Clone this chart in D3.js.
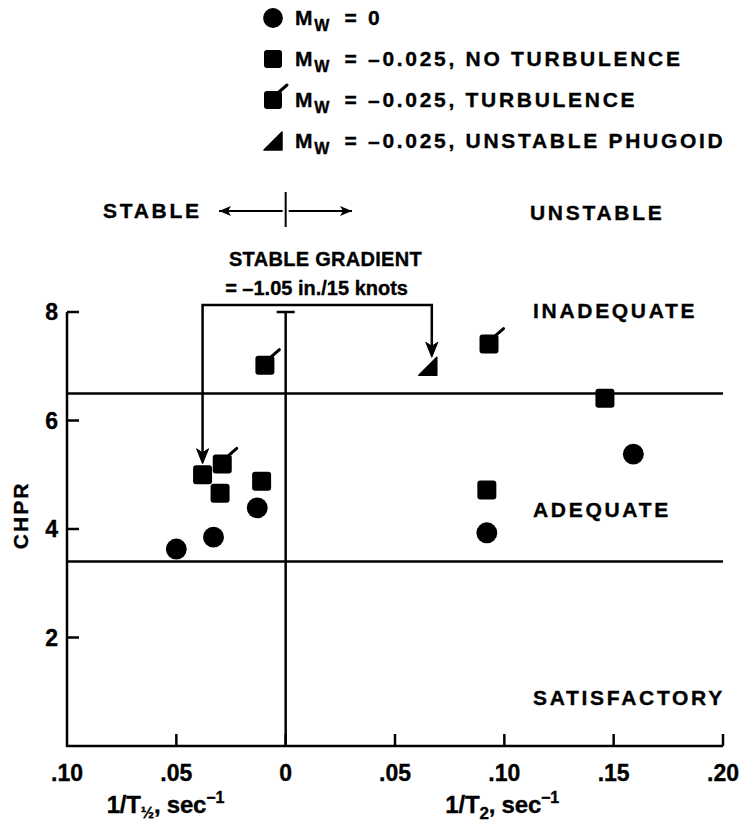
<!DOCTYPE html>
<html>
<head>
<meta charset="utf-8">
<script src="https://cdn.jsdelivr.net/npm/d3@7"></script>
<style>
  body { margin: 0; background: #fff; }
  svg text { font-family: "Liberation Sans", Arial, sans-serif; font-weight: bold; fill: #000; stroke: #000; stroke-width: 0.35px; }
  .wide { letter-spacing: 2.7px; }
</style>
</head>
<body>
<svg id="chart" width="741" height="824"></svg>
<script>
// ---- data ----
const xTickValues = [-0.10, -0.05, 0, 0.05, 0.10, 0.15, 0.20];
const xTickLabels = [".10", ".05", "0", ".05", ".10", ".15", ".20"];
const yTickValues = [2, 4, 6, 8];

// M_w = 0
const mw0X = [-0.050, -0.033, -0.013, 0.092, 0.159];
const mw0Y = [3.63, 3.85, 4.39, 3.93, 5.38];
// M_w = -0.025, no turbulence
const calmX = [-0.038, -0.030, -0.011, 0.092, 0.146];
const calmY = [5.00, 4.66, 4.88, 4.72, 6.41];
// M_w = -0.025, turbulence
const turbX = [-0.0095, -0.029, 0.093];
const turbY = [7.02, 5.20, 7.41];
// M_w = -0.025, unstable phugoid
const phugX = [0.065];
const phugY = [7.00];

// rating boundaries (CHPR)
const boundaries = [6.5, 3.4];
const regionNames = ["INADEQUATE", "ADEQUATE", "SATISFACTORY"];
const regionLabelY = [8.02, 4.35, 0.88];

const legendLabels = ["= 0", "= \u20130.025, NO TURBULENCE", "= \u20130.025, TURBULENCE", "= \u20130.025, UNSTABLE PHUGOID"];
const legendKinds = ["circle", "square", "flag", "triangle"];

// ---- drawing ----
const svg = d3.select("#chart");
const x = d3.scaleLinear().domain([-0.10, 0.20]).range([67, 723]);
const y = d3.scaleLinear().domain([0, 8]).range([746, 312]);

svg.append("defs").append("marker")
  .attr("id", "head").attr("viewBox", "0 0 12 10")
  .attr("refX", 12).attr("refY", 5)
  .attr("markerWidth", 12).attr("markerHeight", 10)
  .attr("markerUnits", "userSpaceOnUse")
  .attr("orient", "auto")
  .append("path").attr("d", "M0,0 L12,5 L0,10 L3,5 Z").attr("fill", "#000");

// plot symbols
function drawSymbol(g, kind, cx, cy, s) {
  if (kind === "circle") {
    g.append("circle").attr("cx", cx).attr("cy", cy).attr("r", s * 0.55).attr("fill", "#000");
  } else if (kind === "square" || kind === "flag") {
    g.append("rect").attr("x", cx - s / 2).attr("y", cy - s / 2)
      .attr("width", s).attr("height", s).attr("rx", 3).attr("fill", "#000");
    if (kind === "flag") {
      g.append("line").attr("x1", cx + s / 2 - 3).attr("y1", cy - s / 2 + 1)
        .attr("x2", cx + s / 2 + 5).attr("y2", cy - s / 2 - 6)
        .attr("stroke", "#000").attr("stroke-width", 3).attr("stroke-linecap", "round");
    }
  } else if (kind === "triangle") {
    const h = s / 2;
    g.append("path")
      .attr("d", `M${cx - h},${cy + h} L${cx + h},${cy + h} L${cx + h},${cy - h} Z`)
      .attr("fill", "#000").attr("stroke", "#000").attr("stroke-width", 1.5)
      .attr("stroke-linejoin", "round");
  }
}

// legend
const legend = svg.append("g");
legendKinds.forEach((k, i) => {
  const cy = 18 + i * 41;
  drawSymbol(legend, k, 273, cy, 18);
  const t = legend.append("text").attr("class", "wide").attr("x", 295).attr("y", cy + 7)
    .style("font-size", "21px");
  t.append("tspan").text("M");
  t.append("tspan").attr("dy", 6).attr("dx", -1).style("font-size", "16px").text("W");
  t.append("tspan").attr("dy", -6).attr("dx", 4).text(" " + legendLabels[i]);
});

// stable / unstable header
svg.append("text").attr("class", "wide").attr("x", 103).attr("y", 218).style("font-size", "21px").text("STABLE");
svg.append("text").attr("class", "wide").attr("x", 530).attr("y", 220).style("font-size", "21px").text("UNSTABLE");
svg.append("line").attr("x1", x(0)).attr("x2", x(0)).attr("y1", 192).attr("y2", 227)
  .attr("stroke", "#000").attr("stroke-width", 2);
svg.append("line").attr("x1", x(0) - 3).attr("x2", 219).attr("y1", 211).attr("y2", 211)
  .attr("stroke", "#000").attr("stroke-width", 2).attr("marker-end", "url(#head)");
svg.append("line").attr("x1", x(0) + 3).attr("x2", 352).attr("y1", 211).attr("y2", 211)
  .attr("stroke", "#000").attr("stroke-width", 2).attr("marker-end", "url(#head)");

// gradient note
svg.append("text").attr("x", 422).attr("y", 266).attr("text-anchor", "end")
  .style("font-size", "20px").style("letter-spacing", "0.3px").text("STABLE GRADIENT");
svg.append("text").attr("x", 408).attr("y", 295).attr("text-anchor", "end")
  .style("font-size", "20px").text("= \u20131.05 in./15 knots");

// axes
const axes = svg.append("g").attr("stroke", "#000").attr("fill", "none");
axes.append("line").attr("x1", x(-0.10)).attr("x2", x(-0.10)).attr("y1", y(8)).attr("y2", y(0) + 1).attr("stroke-width", 2.5);
axes.append("line").attr("x1", x(-0.10) - 1).attr("x2", x(0.20)).attr("y1", y(0)).attr("y2", y(0)).attr("stroke-width", 2.5);
yTickValues.forEach(v => {
  axes.append("line").attr("x1", x(-0.10)).attr("x2", x(-0.10) + 12).attr("y1", y(v)).attr("y2", y(v)).attr("stroke-width", 2.5);
});
xTickValues.forEach(v => {
  if (v === -0.10) return;
  axes.append("line").attr("x1", x(v)).attr("x2", x(v)).attr("y1", y(0)).attr("y2", y(0) - 12).attr("stroke-width", 2.5);
});

svg.selectAll(".ytl").data(yTickValues).join("text")
  .attr("x", 58).attr("y", d => y(d) + 8).attr("text-anchor", "end").style("font-size", "23px")
  .text(d => d);
svg.selectAll(".xtl").data(xTickValues).join("text")
  .attr("x", d => x(d)).attr("y", y(0) + 35).attr("text-anchor", "middle").style("font-size", "23px")
  .text((d, i) => xTickLabels[i]);

// axis titles
const t1 = svg.append("text").attr("x", x(-0.055)).attr("y", 813)
  .attr("text-anchor", "middle").style("font-size", "24px").style("letter-spacing", "-0.2px");
t1.append("tspan").text("1/T");
t1.append("tspan").attr("dy", 5).style("font-size", "16px").text("\u00BD");
t1.append("tspan").attr("dy", -5).text(", sec");
t1.append("tspan").attr("dy", -10).style("font-size", "16px").text("\u22121");
const t2 = svg.append("text").attr("x", x(0.099)).attr("y", 813)
  .attr("text-anchor", "middle").style("font-size", "24px").style("letter-spacing", "-0.2px");
t2.append("tspan").text("1/T");
t2.append("tspan").attr("dy", 6).style("font-size", "17px").text("2");
t2.append("tspan").attr("dy", -6).text(", sec");
t2.append("tspan").attr("dy", -10).style("font-size", "16px").text("\u22121");

svg.append("text").attr("transform", `translate(28,${y(4.25)}) rotate(-90)`)
  .attr("text-anchor", "middle").style("font-size", "21px").style("letter-spacing", "2px").text("CHPR");

// rating boundaries
boundaries.forEach(b => {
  axes.append("line").attr("x1", x(-0.10)).attr("x2", x(0.20)).attr("y1", y(b)).attr("y2", y(b)).attr("stroke-width", 2.5);
});
// zero line with cap
axes.append("line").attr("x1", x(0)).attr("x2", x(0)).attr("y1", y(8)).attr("y2", y(0)).attr("stroke-width", 2.5);
axes.append("line").attr("x1", x(0) - 9).attr("x2", x(0) + 9).attr("y1", y(8)).attr("y2", y(8)).attr("stroke-width", 2.5);

// region labels
regionNames.forEach((n, i) => {
  svg.append("text").attr("class", "wide").attr("x", 533).attr("y", y(regionLabelY[i]) + 7)
    .style("font-size", "21px").text(n);
});

// bracket connecting the stable gradient cases
const bracketTop = y(8) - 7;
const leftTip = [x(calmX[0]), y(calmY[0]) - 11];
const rightTip = [x(phugX[0]) + 4, y(phugY[0]) - 9];
svg.append("path")
  .attr("d", `M${leftTip[0]},${leftTip[1] - 8} V${bracketTop} H${rightTip[0]} V${rightTip[1] - 8}`)
  .attr("fill", "none").attr("stroke", "#000").attr("stroke-width", 2.5);
[leftTip, rightTip].forEach(([px, py]) => {
  svg.append("path").attr("d", `M${px},${py} L${px - 6},${py - 15} L${px},${py - 11} L${px + 6},${py - 15} Z`)
    .attr("fill", "#000").attr("stroke", "#000").attr("stroke-width", 1).attr("stroke-linejoin", "round");
});

// points
const pts = svg.append("g");
mw0X.forEach((v, i) => drawSymbol(pts, "circle", x(v), y(mw0Y[i]), 19));
calmX.forEach((v, i) => drawSymbol(pts, "square", x(v), y(calmY[i]), 19));
turbX.forEach((v, i) => drawSymbol(pts, "flag", x(v), y(turbY[i]), 19));
phugX.forEach((v, i) => drawSymbol(pts, "triangle", x(v), y(phugY[i]), 18));
</script>
</body>
</html>
